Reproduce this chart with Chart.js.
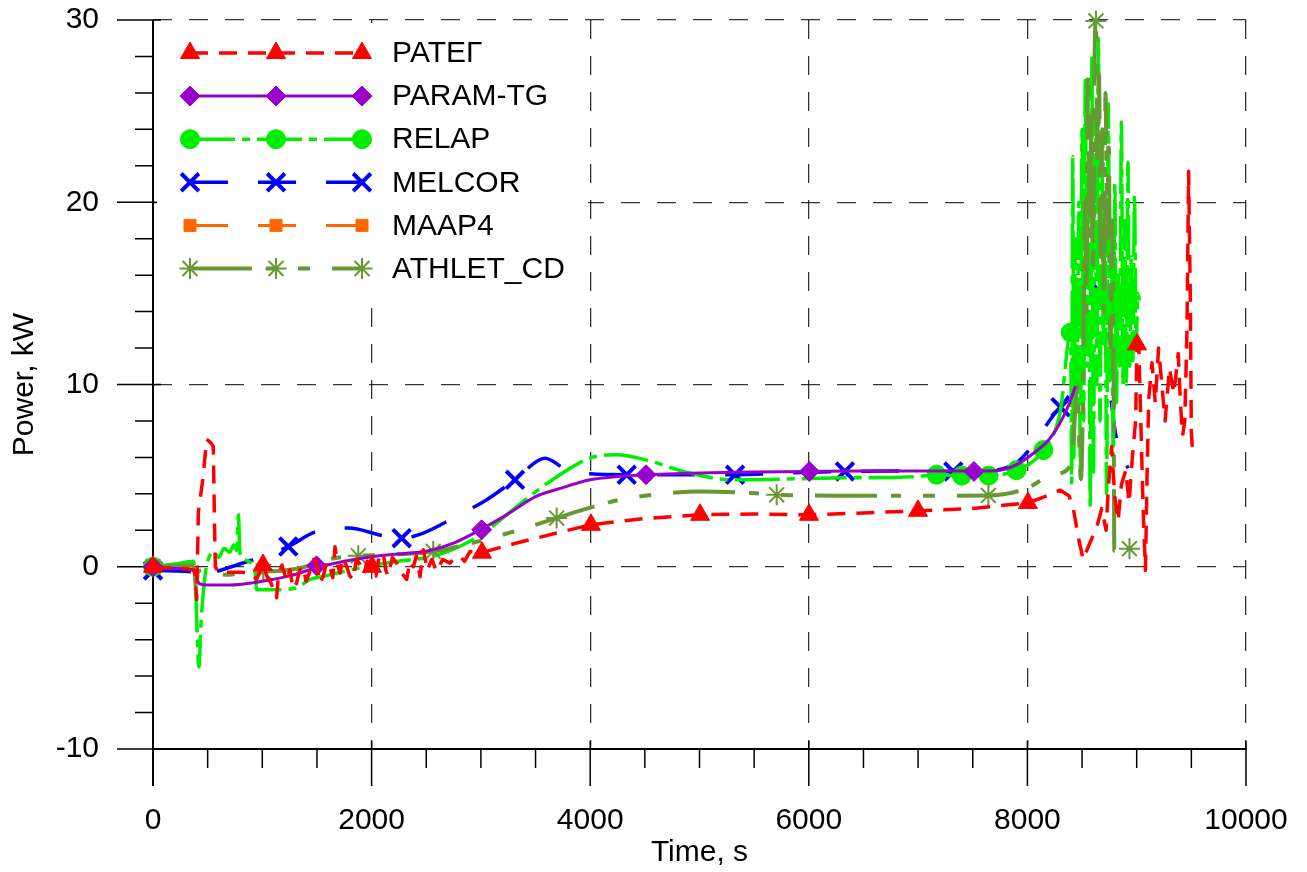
<!DOCTYPE html>
<html><head><meta charset="utf-8">
<script src="https://cdn.jsdelivr.net/npm/chart.js@4.4.1/dist/chart.umd.min.js"></script>
<style>html,body{margin:0;padding:0;background:#fff;}canvas{display:block;}</style>
</head><body>
<canvas id="c" width="1307" height="872"></canvas>
<script>
// ---- data (time s, power kW) ----
const seriesNames = ['РАТЕГ','PARAM-TG','RELAP','MELCOR','MAAP4','ATHLET_CD'];
const xTicksMajor = [0,2000,4000,6000,8000,10000];
const yTicksMajor = [-10,0,10,20,30];

const pateg = [[0,0],[100,-0.05],[300,-0.1],[380,-0.2],[400,-1.8],[415,3.0],[460,5.0],[490,7.0],[530,6.8],[551,6.6],[570,0],[600,-0.3],[800,-0.3],[900,-0.35],[948,-0.7],[1006,0.2],[1040,-0.5],[1080,-0.9],[1131,-1.7],[1147,-0.5],[1180,0.1],[1223,-0.8],[1253,-0.16],[1280,-1.2],[1314,-0.9],[1340,-0.2],[1375,0.02],[1400,-0.8],[1436,-0.26],[1470,0.4],[1497,0.2],[1525,-0.9],[1558,-0.53],[1590,0.3],[1619,0],[1645,-0.6],[1665,1.1],[1690,0.1],[1711,-0.35],[1740,0.5],[1772,0],[1800,-0.5],[1833,-0.7],[1860,0.4],[1894,0.15],[1930,-0.4],[1960,0.3],[2000,0],[2040,-0.5],[2070,0.6],[2107,0.75],[2130,-0.2],[2150,-0.5],[2190,0.5],[2230,0.2],[2270,-0.3],[2321,-0.7],[2350,0.3],[2382,0],[2410,0.6],[2443,-0.55],[2473,0.93],[2510,-0.2],[2550,0.4],[2595,-0.26],[2650,0.4],[2717,0.2],[2760,0.5],[2809,0.56],[2850,0.3],[2900,0.84],[3000,0.77],[3327,1.3],[3693,1.85],[4000,2.3],[4500,2.65],[5000,2.85],[5500,2.9],[6000,2.85],[6500,2.95],[7000,3.07],[7500,3.2],[8000,3.5],[8140,3.8],[8300,4.2],[8380,3.9],[8420,3.2],[8470,1.5],[8510,0.4],[8550,1.0],[8600,1.7],[8640,2.3],[8680,3.2],[8720,2.0],[8740,4.3],[8770,6.6],[8800,3.8],[8830,2.5],[8860,4.5],[8900,5.3],[8930,3.5],[8960,6.0],[8990,8.0],[9003,12.2],[9020,12.0],[9035,8.5],[9060,3.0],[9080,-0.2],[9095,5.0],[9110,9.2],[9140,11.2],[9170,9.0],[9200,12.0],[9230,10.0],[9260,8.0],[9300,10.9],[9340,9.5],[9380,11.7],[9400,9.0],[9420,7.2],[9440,8.0],[9460,13.0],[9475,21.7],[9490,15.0],[9500,7.4],[9510,6.4]];
const pategMarks = [[0,0],[1006,0.1],[2004,0],[3010,0.77],[4007,2.3],[5005,2.85],[6002,2.85],[6999,3.07],[8005,3.5],[9003,12.2]];

const paramTg = [[0,0],[200,-0.1],[380,-0.2],[420,-0.9],[500,-1.0],[700,-1.0],[1000,-0.8],[1250,-0.5],[1500,-0.05],[1750,0.3],[2000,0.55],[2250,0.7],[2500,0.85],[2750,1.3],[3000,2.05],[3250,2.9],[3500,3.85],[3700,4.25],[4000,4.77],[4250,4.95],[4500,5.05],[5000,5.15],[5500,5.2],[6000,5.23],[6500,5.25],[7000,5.25],[7500,5.25],[7750,5.3],[7900,5.6],[8050,6.2],[8200,7.0],[8300,7.9],[8380,8.9],[8440,9.9]];
const paramTgMarks = [[0,0],[1497,0.05],[3007,2.03],[4511,5.05],[6005,5.23],[7511,5.23]];

const relap = [[0,0],[200,0.15],[370,0.3],[395,-2.0],[410,-4.7],[420,-5.5],[440,-3.0],[476,-0.5],[505,0.4],[560,0.8],[600,0.5],[650,1.0],[700,0.8],[740,1.2],[766,0.9],[781,2.85],[795,0.8],[811,0.5],[872,0.3],[933,-0.26],[948,-1.26],[1131,-1.26],[1314,-1.16],[1436,-0.7],[1558,-0.53],[1955,0.02],[2250,0.3],[2562,0.57],[2870,1.3],[3100,2.2],[3327,3.3],[3632,4.68],[3998,5.96],[4242,6.14],[4547,5.8],[4852,5.23],[5307,4.77],[6221,4.87],[6987,4.95],[7170,5.05],[7400,5.0],[7645,5.0],[7900,5.3],[8146,6.4],[8300,8.5],[8396,12.85],[8405,4.6],[8415,22.5],[8425,6],[8440,18],[8455,9],[8470,20],[8485,5],[8500,24],[8515,8],[8530,26.7],[8545,11],[8560,22],[8575,3.2],[8590,28],[8605,5],[8620,25],[8635,10],[8650,29],[8665,8],[8680,24],[8695,12],[8710,20],[8725,4],[8740,25.4],[8755,10.2],[8770,18],[8785,6],[8800,21],[8815,9],[8830,16],[8845,11],[8860,24.4],[8875,10],[8890,19],[8905,10],[8920,22.2],[8935,11],[8950,17],[8965,11.3],[8980,20.4],[8995,12],[9010,15],[9025,14.6]];
const relapMarks = [[0,0],[7170,5.05],[7400,5.0],[7645,5.0],[7900,5.3],[8146,6.4],[8396,12.85]];

const melcor = [[0,-0.2],[380,-0.3],[420,-0.6],[583,-0.26],[872,0.3],[1000,0.55],[1238,1.11],[1497,1.94],[1787,2.12],[2107,1.7],[2275,1.57],[2473,1.85],[2748,2.67],[3053,3.68],[3312,4.77],[3587,5.96],[3785,5.32],[4000,5.1],[4334,5.05],[4800,5.05],[5325,5.05],[5800,5.15],[6330,5.23],[6800,5.25],[7322,5.23],[7700,5.3],[7900,5.7],[8000,6.3],[8097,7.1],[8250,8.4],[8303,8.75],[8370,9.3],[8457,10.3],[8540,12.4],[8600,15.5],[8680,14.0],[8750,10.0],[8810,7.2],[8920,5.4]];
const melcorMarks = [[0,-0.2],[1238,1.11],[2275,1.57],[3312,4.77],[4334,5.05],[5325,5.05],[6330,5.23],[7322,5.23],[8303,8.75]];

const maap4 = [];
const maap4Marks = [];

const athlet = [[0,0],[200,0.05],[350,0.1],[380,-0.3],[395,-1.26],[410,-0.3],[450,-0.2],[600,-0.4],[674,-0.44],[800,-0.35],[1009,-0.26],[1200,-0.2],[1345,-0.07],[1600,0.4],[1802,0.57],[1878,0.6],[2168,0.66],[2564,0.84],[2850,1.2],[3144,1.66],[3693,2.67],[3937,3.13],[4273,3.68],[4578,3.95],[5005,4.13],[5493,4.04],[5706,3.95],[6221,3.9],[7136,3.9],[7643,3.91],[7993,4.3],[8242,5.08],[8400,5.6],[8460,9.9],[8470,7.6],[8490,4.8],[8510,10],[8525,20],[8540,14],[8555,27],[8570,18],[8585,25],[8600,16],[8615,28],[8627,29.95],[8640,22],[8655,27],[8670,17],[8685,24],[8700,14],[8715,26],[8730,18],[8745,23],[8760,12],[8775,19],[8790,9],[8795,0.88],[8850,0.9],[8934,0.99]];
const athletMarks = [[0,0],[1009,-0.26],[1878,0.6],[2564,0.84],[3693,2.67],[5706,3.95],[7643,3.91],[8627,29.95],[8934,0.99]];

// ---- styles ----
const FONT = '"Liberation Sans", Arial, Helvetica, sans-serif';
const C_RED = '#ff0000', C_PUR = '#9900cc', C_GRN = '#00ee00', C_BLU = '#0000ff', C_ORG = '#ff6600', C_OLV = '#669933';
const GRID = 'rgba(0,0,0,0.8)';

function toXY(arr){ return arr.map(p => ({x: p[0], y: p[1]})); }
function lineDs(label, pts, color, width, dash, order, smooth){
  return {label, data: toXY(pts), borderColor: color, backgroundColor: color, borderWidth: width,
    borderDash: dash, pointRadius: 0, pointHoverRadius: 0, tension: 0,
    cubicInterpolationMode: smooth ? 'monotone' : 'default', order, clip: false, fill: false,
    borderCapStyle: 'butt', borderJoinStyle: 'round'};
}
function markDs(label, pts, color, style, radius, bw, order, fillIt){
  return {label: label + ' (markers)', data: toXY(pts), showLine: false, pointStyle: style,
    pointRadius: radius, pointHoverRadius: radius, pointBackgroundColor: fillIt ? color : 'rgba(0,0,0,0)',
    pointBorderColor: color, pointBorderWidth: bw, order, clip: false, borderColor: color, backgroundColor: color};
}

const legendDefs = [
  {name: seriesNames[0], color: C_RED, width: 3.5, dash: [18,11], style: 'triangle', r: 11, bw: 1, fill: true},
  {name: seriesNames[1], color: C_PUR, width: 3, dash: [], style: 'rectRot', r: 10, bw: 1, fill: true},
  {name: seriesNames[2], color: C_GRN, width: 3.5, dash: [45,7,8,7], style: 'circle', r: 9.5, bw: 1, fill: true},
  {name: seriesNames[3], color: C_BLU, width: 3.5, dash: [38,30], style: 'crossRot', r: 12.5, bw: 4, fill: false},
  {name: seriesNames[4], color: C_ORG, width: 3, dash: [38,30], style: 'rect', r: 8.5, bw: 1, fill: true},
  {name: seriesNames[5], color: C_OLV, width: 4, dash: [62,14,10,22,12,22], style: 'star', r: 10.5, bw: 2, fill: false}
];
const seriesPts = [pateg, paramTg, relap, melcor, maap4, athlet];
const seriesMarks = [pategMarks, paramTgMarks, relapMarks, melcorMarks, maap4Marks, athletMarks];
const drawOrder = [1, 2, 4, 5, 6, 3]; // lower = on top
const smoothFlags = [false, true, true, true, false, true];

const datasets = [];
legendDefs.forEach((d, i) => {
  datasets.push(lineDs(d.name, seriesPts[i], d.color, d.width, d.dash, drawOrder[i] * 2, smoothFlags[i]));
  datasets.push(markDs(d.name, seriesMarks[i], d.color, d.style, d.r, d.bw, drawOrder[i] * 2 - 1, d.fill));
});

// ---- plugin: axis lines, ticks, legend ----
const axesPlugin = {
  id: 'axesPlugin',
  beforeDatasetsDraw(chart){
    const ctx = chart.ctx, xs = chart.scales.x, ys = chart.scales.y;
    const x0 = xs.getPixelForValue(0), x1 = xs.getPixelForValue(10000);
    const yb = ys.getPixelForValue(-10), yt = ys.getPixelForValue(30);
    ctx.save();
    ctx.strokeStyle = '#000';
    ctx.lineWidth = 2;
    ctx.beginPath();
    ctx.moveTo(x0, yt); ctx.lineTo(x0, yb + 37);
    ctx.moveTo(x0, yb); ctx.lineTo(x1, yb);
    ctx.stroke();
    ctx.lineWidth = 1.5;
    ctx.beginPath();
    for (let v = 0; v <= 10000; v += 500) {
      const p = xs.getPixelForValue(v);
      if (xTicksMajor.includes(v)) { ctx.moveTo(p, yb - 8); ctx.lineTo(p, yb + 37); }
      else { ctx.moveTo(p, yb); ctx.lineTo(p, yb + 19); }
    }
    for (let v = -10; v <= 30; v += 2) {
      const p = ys.getPixelForValue(v);
      if (yTicksMajor.includes(v)) { ctx.moveTo(x0 - 36, p); ctx.lineTo(x0 + 8, p); }
      else { ctx.moveTo(x0 - 18, p); ctx.lineTo(x0, p); }
    }
    ctx.stroke();
    ctx.restore();
  },
  afterDatasetsDraw(chart){
    const ctx = chart.ctx;
    ctx.save();
    ctx.fillStyle = '#fff';
    ctx.fillRect(157, 23, 431, 270);
    const x1 = 190, x2 = 276, x3 = 362;
    legendDefs.forEach((d, i) => {
      const y = 53 + i * 43.1;
      ctx.save();
      ctx.strokeStyle = d.color; ctx.lineWidth = d.width; ctx.setLineDash(d.dash); ctx.lineCap = 'butt';
      ctx.beginPath(); ctx.moveTo(x1, y); ctx.lineTo(x3, y); ctx.stroke();
      ctx.restore();
      [x1, x2, x3].forEach(px => {
        ctx.save();
        ctx.fillStyle = d.fill ? d.color : 'rgba(0,0,0,0)';
        ctx.strokeStyle = d.color;
        ctx.lineWidth = d.bw;
        ctx.setLineDash([]);
        Chart.helpers.drawPoint(ctx, {pointStyle: d.style, radius: d.r, borderWidth: d.bw, rotation: 0}, px, y);
        ctx.restore();
      });
      ctx.fillStyle = '#000';
      ctx.font = '30px ' + FONT;
      ctx.textAlign = 'left';
      ctx.textBaseline = 'middle';
      ctx.fillText(d.name, 392, y + 1);
    });
    ctx.restore();
  }
};

new Chart(document.getElementById('c'), {
  type: 'line',
  data: {datasets},
  options: {
    responsive: false,
    devicePixelRatio: 1,
    animation: false,
    events: [],
    layout: {padding: {top: 20, right: 61, left: 0, bottom: 0}},
    plugins: {legend: {display: false}, tooltip: {enabled: false}, title: {display: false}},
    scales: {
      x: {
        type: 'linear', min: 0, max: 10000,
        afterFit(s){ s.height = 123; s.paddingLeft = 0; s.paddingRight = 0; },
        ticks: {stepSize: 500, autoSkip: false, maxRotation: 0, minRotation: 0, padding: 54, color: '#000',
          font: {family: FONT, size: 30},
          callback: v => xTicksMajor.includes(v) ? String(v) : ''},
        grid: {drawTicks: false, lineWidth: 1.3,
          color: c => (c.tick && c.tick.value % 2000 === 0 && c.tick.value !== 0) ? GRID : 'rgba(0,0,0,0)'},
        border: {display: false, dash: [19,17]},
        title: {display: true, text: 'Time, s', color: '#000', font: {family: FONT, size: 30}, padding: {top: 0, bottom: 1}}
      },
      y: {
        type: 'linear', min: -10, max: 30,
        afterFit(s){ s.width = 153; s.paddingTop = 0; s.paddingBottom = 0; },
        ticks: {stepSize: 2, autoSkip: false, padding: 54, color: '#000',
          font: {family: FONT, size: 30},
          callback: v => yTicksMajor.includes(v) ? String(v) : ''},
        grid: {drawTicks: false, lineWidth: 1.3,
          color: c => (c.tick && c.tick.value % 10 === 0 && c.tick.value !== -10) ? GRID : 'rgba(0,0,0,0)'},
        border: {display: false, dash: [19,17]},
        title: {display: true, text: 'Power, kW', color: '#000', font: {family: FONT, size: 30}, padding: {top: 7, bottom: 0}}
      }
    }
  },
  plugins: [axesPlugin]
});
</script>
</body></html>
